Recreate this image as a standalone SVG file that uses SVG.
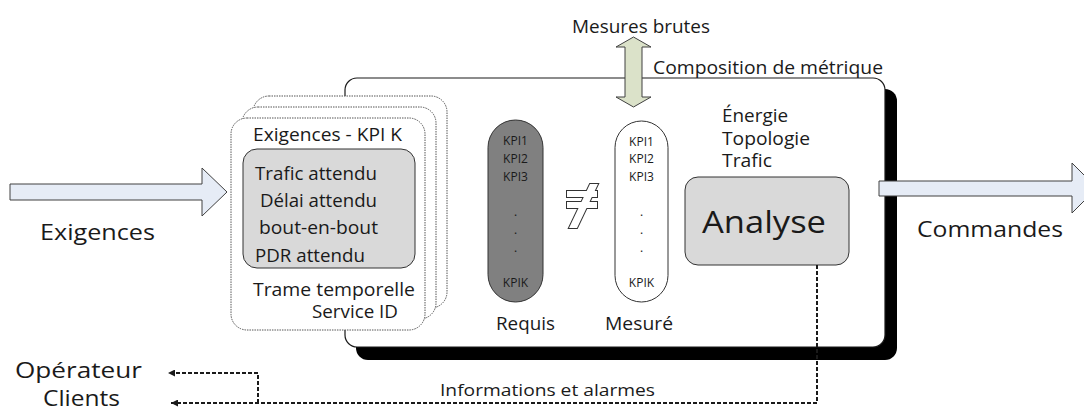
<svg xmlns="http://www.w3.org/2000/svg" width="1084" height="412" viewBox="0 0 1084 412">
<style>
text{font-family:"Open Sans","Liberation Sans",sans-serif;fill:#1a1a1a}
.s17{font-size:17px}
.s18{font-size:18px}
.s19{font-size:19px}
.s21{font-size:21px}
.s22{font-size:22px}
.s31{font-size:31px}
.kpi{font-size:12px;text-anchor:middle}
.page{fill:#fff;stroke:#555;stroke-width:1;stroke-dasharray:1.5 1}
.gray{fill:#d9d9d9;stroke:#333;stroke-width:1}
.blue{fill:#e6ecf6;stroke:#404040;stroke-width:1}
.dash{fill:none;stroke:#1a1a1a;stroke-width:2;stroke-dasharray:4 2}
</style>
<defs>
<marker id="ah" viewBox="0 0 8 8" refX="8" refY="4" markerWidth="7" markerHeight="7" markerUnits="userSpaceOnUse" orient="auto"><path d="M0,0 L8,4 L0,8 z" fill="#1a1a1a"/></marker>
<g id="neq-shape">
<rect x="567" y="191" width="30" height="6"/>
<rect x="567" y="202" width="30" height="6"/>
<polygon points="590,184 598,184 577,228 569,228"/>
</g>
</defs>

<g id="main-box">
<rect x="356" y="89" width="541" height="271" rx="12" fill="#000"/>
<rect x="345" y="78" width="540" height="269" rx="12" fill="#fff" stroke="#1a1a1a" stroke-width="1.2"/>
<text class="s19" x="653" y="74" textLength="230" lengthAdjust="spacingAndGlyphs">Composition de métrique</text>
</g>

<g id="requirements-stack">
<rect class="page" x="253" y="96" width="194" height="212" rx="16"/>
<rect class="page" x="242" y="107" width="194" height="212" rx="16"/>
<rect class="page" x="231" y="118" width="194" height="212" rx="16"/>
<text class="s18" x="253" y="141" textLength="149" lengthAdjust="spacingAndGlyphs">Exigences - KPI K</text>
<rect class="gray" x="243" y="149" width="172" height="119" rx="14"/>
<text class="s18" x="255" y="180" textLength="122" lengthAdjust="spacingAndGlyphs">Trafic attendu</text>
<text class="s18" x="260" y="207" textLength="117" lengthAdjust="spacingAndGlyphs">Délai attendu</text>
<text class="s18" x="259" y="234" textLength="119" lengthAdjust="spacingAndGlyphs">bout-en-bout</text>
<text class="s18" x="255" y="262" textLength="110" lengthAdjust="spacingAndGlyphs">PDR attendu</text>
<text class="s18" x="253" y="296" textLength="162" lengthAdjust="spacingAndGlyphs">Trame temporelle</text>
<text class="s18" x="312" y="318" textLength="86" lengthAdjust="spacingAndGlyphs">Service ID</text>
</g>

<g id="requis">
<rect x="488" y="120" width="55" height="182" rx="27.5" fill="#808080" stroke="#333" stroke-width="1"/>
<text class="kpi" x="515.5" y="145">KPI1</text>
<text class="kpi" x="515.5" y="163">KPI2</text>
<text class="kpi" x="515.5" y="181">KPI3</text>
<text class="kpi" x="515.5" y="216">.</text>
<text class="kpi" x="515.5" y="234">.</text>
<text class="kpi" x="515.5" y="252">.</text>
<text class="kpi" x="515.5" y="287">KPIK</text>
<text class="s18" x="496" y="330" textLength="59" lengthAdjust="spacingAndGlyphs">Requis</text>
</g>

<g id="not-equal">
<use href="#neq-shape" fill="none" stroke="#333" stroke-width="2"/>
<use href="#neq-shape" fill="#fff" stroke="none"/>
</g>

<g id="mesure">
<rect x="615" y="121" width="53" height="181" rx="26.5" fill="#fff" stroke="#333" stroke-width="1"/>
<text class="kpi" x="641.5" y="146">KPI1</text>
<text class="kpi" x="641.5" y="163">KPI2</text>
<text class="kpi" x="641.5" y="181">KPI3</text>
<text class="kpi" x="641.5" y="216">.</text>
<text class="kpi" x="641.5" y="234">.</text>
<text class="kpi" x="641.5" y="252">.</text>
<text class="kpi" x="641.5" y="287">KPIK</text>
<text class="s18" x="605" y="330" textLength="68" lengthAdjust="spacingAndGlyphs">Mesuré</text>
</g>

<g id="metrics">
<text class="s18" x="722" y="122" textLength="66" lengthAdjust="spacingAndGlyphs">Énergie</text>
<text class="s18" x="722" y="145" textLength="88" lengthAdjust="spacingAndGlyphs">Topologie</text>
<text class="s18" x="722" y="167" textLength="50" lengthAdjust="spacingAndGlyphs">Trafic</text>
</g>

<g id="analyse">
<rect class="gray" x="685" y="177" width="164" height="88" rx="13"/>
<text class="s31" x="702" y="233" textLength="124" lengthAdjust="spacingAndGlyphs">Analyse</text>
</g>

<g id="mesures-brutes">
<polygon points="633.5,37 651,47 642,47 642,97 651,97 633.5,107 616,97 625,97 625,47 616,47" fill="#dbe2c9" stroke="#404040" stroke-width="1"/>
<text class="s19" x="572" y="33" textLength="138" lengthAdjust="spacingAndGlyphs">Mesures brutes</text>
</g>

<g id="exigences">
<polygon class="blue" points="10,184 202,184 202,168 227,192 202,216 202,200 10,200"/>
<text class="s22" x="40" y="240" textLength="115" lengthAdjust="spacingAndGlyphs">Exigences</text>
</g>

<g id="commandes">
<polygon class="blue" points="879,181 1072,181 1072,163 1097,188 1072,213 1072,196 879,196"/>
<text class="s22" x="917" y="237" textLength="146" lengthAdjust="spacingAndGlyphs">Commandes</text>
</g>

<g id="operateur">
<text class="s22" x="15" y="378" textLength="127" lengthAdjust="spacingAndGlyphs">Opérateur</text>
</g>
<g id="clients">
<text class="s21" x="43" y="406" textLength="77" lengthAdjust="spacingAndGlyphs">Clients</text>
</g>

<g id="connectors">
<path class="dash" d="M817,265 V403 H171" marker-end="url(#ah)"/>
<path class="dash" d="M258,403 V373 H168" marker-end="url(#ah)"/>
<text class="s17" x="440" y="396" textLength="215" lengthAdjust="spacingAndGlyphs">Informations et alarmes</text>
</g>
</svg>
